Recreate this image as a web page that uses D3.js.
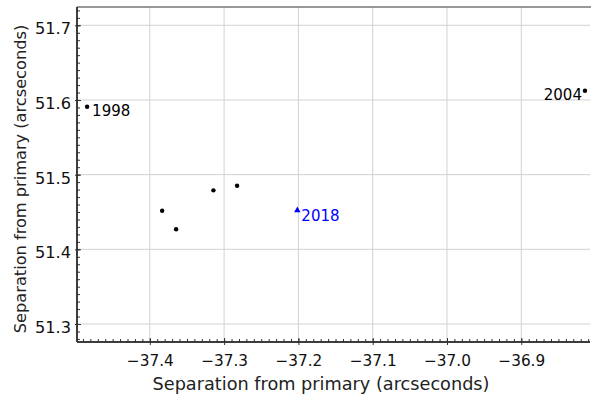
<!DOCTYPE html>
<html><head><meta charset="utf-8">
<script src="https://cdn.jsdelivr.net/npm/d3@7"></script>
<style>
html,body{margin:0;padding:0;background:#fff;}
svg{display:block;}
text{font-family:"DejaVu Sans",Verdana,sans-serif;}
</style></head>
<body>
<svg id="chart" width="591" height="397"></svg>
<script>
// Data
const obsX = [-37.4844, -37.3834, -37.3646, -37.3144, -37.2825, -36.8143];
const obsY = [51.591, 51.4517, 51.4268, 51.479, 51.4851, 51.6124];
const obsLabel = ["1998", "", "", "", "", "2004"];
const obsLabelSide = ["right", "", "", "", "", "left"];
const predX = [-37.2014];
const predY = [51.4522];
const predLabel = ["2018"];
const xTicks = [-37.4, -37.3, -37.2, -37.1, -37.0, -36.9];
const yTicks = [51.3, 51.4, 51.5, 51.6, 51.7];
const xDomain = [-37.498, -36.8075];
const yDomain = [51.2759, 51.7245];
const xTitle = "Separation from primary (arcseconds)";
const yTitle = "Separation from primary (arcseconds)";

const svg = d3.select("#chart");
const L = 77, R = 590, T = 7, B = 342;
const x = d3.scaleLinear().domain(xDomain).range([L, R]);
const y = d3.scaleLinear().domain(yDomain).range([B, T]);
const fmt = d3.format(".1f");

// grid
const grid = svg.append("g");
grid.selectAll("line.v").data(xTicks).join("line")
  .attr("x1", d => x(d)).attr("x2", d => x(d)).attr("y1", T).attr("y2", B)
  .attr("stroke", "#d2d2d2").attr("stroke-width", 1);
grid.selectAll("line.h").data(yTicks).join("line")
  .attr("x1", L).attr("x2", R).attr("y1", d => y(d)).attr("y2", d => y(d))
  .attr("stroke", "#d2d2d2").attr("stroke-width", 1);

// top border
svg.append("line").attr("x1", L).attr("x2", 591).attr("y1", T).attr("y2", T)
  .attr("stroke", "#777").attr("stroke-width", 1.5);

// minor ticks
const xMinor = d3.range(Math.ceil(xDomain[0]*100), Math.floor(xDomain[1]*100)+1).map(v => v/100);
const yMinor = d3.range(Math.ceil(yDomain[0]*100), Math.floor(yDomain[1]*100)+1).map(v => v/100);

const xAxisMinor = d3.axisBottom(x).tickValues(xMinor).tickSize(-3).tickFormat("");
const xAxisMajor = d3.axisBottom(x).tickValues(xTicks).tickSize(3).tickPadding(10).tickFormat(fmt);
const xAxisIn = d3.axisBottom(x).tickValues(xTicks).tickSize(-4).tickFormat("");

const gx = svg.append("g").attr("transform", `translate(0,${B})`);
gx.append("g").call(xAxisMinor);
gx.append("g").call(xAxisIn);
gx.append("g").call(xAxisMajor);
gx.selectAll(".domain").attr("stroke", "#222").attr("d", `M${L},0H${R}`);
gx.selectAll("line").attr("stroke", "#333");
gx.selectAll("text").attr("font-size", 15.3).attr("fill", "#111")
  .attr("font-family", '"DejaVu Sans",Verdana,sans-serif');

const yAxisMinor = d3.axisLeft(y).tickValues(yMinor).tickSize(-3).tickFormat("");
const yAxisMajor = d3.axisLeft(y).tickValues(yTicks).tickSize(2).tickPadding(4).tickFormat(fmt);
const yAxisIn = d3.axisLeft(y).tickValues(yTicks).tickSize(-4).tickFormat("");
const gy = svg.append("g").attr("transform", `translate(${L},0)`);
gy.append("g").call(yAxisMinor);
gy.append("g").call(yAxisIn);
gy.append("g").call(yAxisMajor);
gy.selectAll(".domain").attr("stroke", "#222").attr("d", `M0,${T}V${B}`);
gy.selectAll("line").attr("stroke", "#333");
gy.selectAll("text").attr("font-size", 16.2).attr("fill", "#111").attr("dy", "0.52em")
  .attr("font-family", '"DejaVu Sans",Verdana,sans-serif');

// titles
svg.append("text").attr("x", 321).attr("y", 390).attr("text-anchor", "middle")
  .attr("font-size", 17.7).attr("fill", "#222").text(xTitle);
svg.append("text").attr("transform", "translate(26,179) rotate(-90)")
  .attr("text-anchor", "middle").attr("font-size", 16.2).attr("fill", "#222").text(yTitle);

// observed points
const obs = obsX.map((v, i) => ({x: v, y: obsY[i], label: obsLabel[i], side: obsLabelSide[i]}));
svg.append("g").selectAll("circle").data(obs).join("circle")
  .attr("cx", d => x(d.x)).attr("cy", d => y(d.y)).attr("r", 2.2).attr("fill", "#000");
svg.append("g").selectAll("text").data(obs.filter(d => d.label)).join("text")
  .attr("x", d => d.side === "right" ? x(d.x) + 5 : x(d.x) - 3)
  .attr("y", d => y(d.y) + 9)
  .attr("text-anchor", d => d.side === "right" ? "start" : "end")
  .attr("font-size", 15).attr("fill", "#000").text(d => d.label);

// predicted point
const pred = predX.map((v, i) => ({x: v, y: predY[i], label: predLabel[i]}));
svg.append("g").selectAll("path").data(pred).join("path")
  .attr("transform", d => `translate(${x(d.x)},${y(d.y)})`)
  .attr("d", d3.symbol(d3.symbolTriangle, 18)).attr("fill", "#0000ff");
svg.append("g").selectAll("text").data(pred).join("text")
  .attr("x", d => x(d.x) + 4).attr("y", d => y(d.y) + 10.5)
  .attr("font-size", 15).attr("fill", "#0000ff").text(d => d.label);
</script>
</body></html>
